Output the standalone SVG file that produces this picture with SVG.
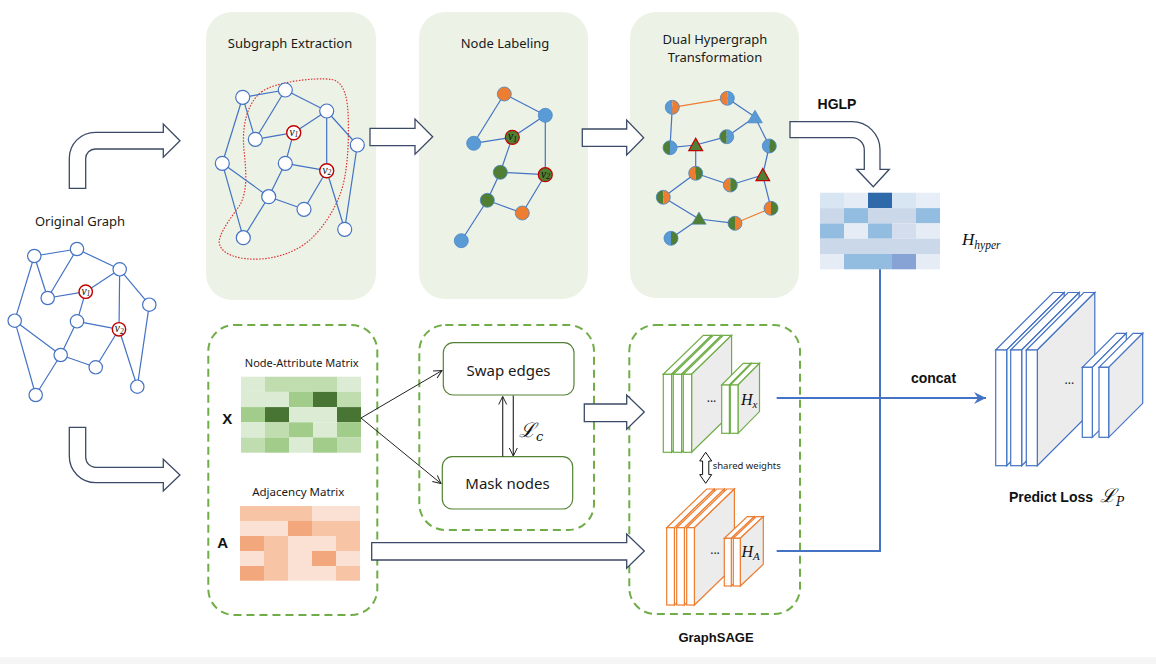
<svg xmlns="http://www.w3.org/2000/svg" xmlns:xlink="http://www.w3.org/1999/xlink" width="1156" height="664" viewBox="0 0 1156 664">
<style>
.t{font-family:"Noto Sans","Liberation Sans",sans-serif;fill:#1a1a1a;text-anchor:middle}
.b{font-family:"Liberation Sans",Arial,sans-serif;font-weight:bold;fill:#111}
.m{font-family:"Liberation Serif","DejaVu Serif",serif;font-style:italic;fill:#111}
.ml{font-family:"DejaVu Serif","Liberation Serif",serif;font-style:italic;fill:#111}
.vl{font-family:"Liberation Serif","DejaVu Serif",serif;font-style:italic;fill:#111;text-anchor:middle;font-size:11.5px}
.panel{fill:#ecf3e6;stroke:none}
.e{stroke:#4472c4;stroke-width:1.2;fill:none}
.eo{stroke:#ed7d31;stroke-width:1.2;fill:none}
.n{fill:#fff;stroke:#4472c4;stroke-width:1.2}
.nv{fill:#fff;stroke:#c00000;stroke-width:1.4}
.blk{fill:#fff;stroke:#3b4a66;stroke-width:1.3;stroke-linejoin:miter}
.dash{fill:none;stroke:#70ad47;stroke-width:2;stroke-dasharray:8 5}
.box{fill:#fff;stroke:#548235;stroke-width:1.2}
.sg{fill:#fff;stroke:#70ad47;stroke-width:1.2}
.so{fill:#fff;stroke:#ed7d31;stroke-width:1.2}
.sb{fill:#fff;stroke:#4472c4;stroke-width:1.2}
.fb{fill:#5b9bd5;stroke:#4a86c5;stroke-width:0.8}
.fo{fill:#ed7d31;stroke:#4a86c5;stroke-width:0.8}
.fg{fill:#507e32;stroke:#4a86c5;stroke-width:0.8}
.fgr{fill:#507e32;stroke:#c00000;stroke-width:1.2}
.cb{fill:#5b9bd5}.co{fill:#ed7d31}.cg{fill:#507e32}
.ring{fill:none;stroke:#4a86c5;stroke-width:0.8}
.bl{stroke:#4472c4;stroke-width:2;fill:none}
.k{stroke:#222;stroke-width:1;fill:none}
</style>
<defs>
<marker id="ah" markerWidth="10" markerHeight="10" refX="9" refY="5" orient="auto" markerUnits="userSpaceOnUse">
<path d="M1,1 L9,5 L1,9" fill="none" stroke="#222" stroke-width="1"/>
</marker>
<marker id="ahb" markerWidth="14" markerHeight="12" refX="12" refY="6" orient="auto" markerUnits="userSpaceOnUse">
<path d="M0,0 L12,6 L0,12 L4,6 Z" fill="#4472c4"/>
</marker>
<g id="hc-bo"><path d="M0,-7 A7,7 0 0 0 0,7 Z" class="cb"/><path d="M0,-7 A7,7 0 0 1 0,7 Z" class="co"/><circle r="7" class="ring"/></g>
<g id="hc-ob"><path d="M0,-7 A7,7 0 0 0 0,7 Z" class="co"/><path d="M0,-7 A7,7 0 0 1 0,7 Z" class="cb"/><circle r="7" class="ring"/></g>
<g id="hc-gb"><path d="M0,-7 A7,7 0 0 0 0,7 Z" class="cg"/><path d="M0,-7 A7,7 0 0 1 0,7 Z" class="cb"/><circle r="7" class="ring"/></g>
<g id="hc-bg"><path d="M0,-7 A7,7 0 0 0 0,7 Z" class="cb"/><path d="M0,-7 A7,7 0 0 1 0,7 Z" class="cg"/><circle r="7" class="ring"/></g>
<g id="hc-og"><path d="M0,-7 A7,7 0 0 0 0,7 Z" class="co"/><path d="M0,-7 A7,7 0 0 1 0,7 Z" class="cg"/><circle r="7" class="ring"/></g>
<g id="hc-go"><path d="M0,-7 A7,7 0 0 0 0,7 Z" class="cg"/><path d="M0,-7 A7,7 0 0 1 0,7 Z" class="co"/><circle r="7" class="ring"/></g>
</defs>

<rect x="0" y="0" width="1156" height="664" fill="#fff"/>
<rect x="0" y="657" width="1156" height="7" fill="#f5f5f5"/>

<!-- Original graph -->
<g id="original-graph">
<text class="t" x="80" y="226" font-size="13">Original Graph</text>
<g class="e">
<line x1="34.3" y1="256" x2="77" y2="249"/><line x1="34.3" y1="256" x2="47.7" y2="298"/><line x1="77" y1="249" x2="47.7" y2="298"/>
<line x1="34.3" y1="256" x2="14.7" y2="320.7"/><line x1="77" y1="249" x2="119.7" y2="269.3"/><line x1="47.7" y1="298" x2="85.7" y2="291.7"/>
<line x1="85.7" y1="291.7" x2="119.7" y2="269.3"/><line x1="119.7" y1="269.3" x2="119" y2="329.3"/><line x1="119.7" y1="269.3" x2="149.3" y2="304.7"/>
<line x1="85.7" y1="291.7" x2="77" y2="321.3"/><line x1="77" y1="321.3" x2="119" y2="329.3"/><line x1="77" y1="321.3" x2="60.7" y2="355"/>
<line x1="14.7" y1="320.7" x2="60.7" y2="355"/><line x1="14.7" y1="320.7" x2="35.7" y2="395"/><line x1="60.7" y1="355" x2="35.7" y2="395"/>
<line x1="60.7" y1="355" x2="95.7" y2="367.3"/><line x1="95.7" y1="367.3" x2="119" y2="329.3"/><line x1="119" y1="329.3" x2="137.3" y2="386.7"/>
<line x1="149.3" y1="304.7" x2="137.3" y2="386.7"/>
</g>
<circle class="n" cx="34.3" cy="256" r="6.7"/><circle class="n" cx="77" cy="249" r="6.7"/><circle class="n" cx="119.7" cy="269.3" r="6.7"/>
<circle class="n" cx="47.7" cy="298" r="6.7"/><circle class="n" cx="149.3" cy="304.7" r="6.7"/><circle class="n" cx="14.7" cy="320.7" r="6.7"/>
<circle class="n" cx="77" cy="321.3" r="6.7"/><circle class="n" cx="60.7" cy="355" r="6.7"/><circle class="n" cx="95.7" cy="367.3" r="6.7"/>
<circle class="n" cx="137.3" cy="386.7" r="6.7"/><circle class="n" cx="35.7" cy="395" r="6.7"/>
<circle class="nv" cx="85.7" cy="291.7" r="6.7"/><circle class="nv" cx="119" cy="329.3" r="6.7"/>
<text class="vl" x="85.9" y="294.5">v<tspan font-size="7.5" dy="1.8">1</tspan></text>
<text class="vl" x="119.2" y="332.1">v<tspan font-size="7.5" dy="1.8">2</tspan></text>
</g>

<!-- Subgraph extraction -->
<g id="subgraph-extraction">
<rect class="panel" x="206" y="12" width="170" height="288" rx="26"/>
<text class="t" x="290" y="48" font-size="13">Subgraph Extraction</text>
<path d="M261.7,91.7 C275,82 315,77 332,79.5 C345,82 348,100 348.3,120 C349,145 347,170 343,185 C338,205 325,225 313,237 C300,250 280,258 260,259 C240,260 222,255 219.5,244 C217,235 233,215 240,205 C248,190 246,170 244,150 C242,130 245,105 261.7,91.7 Z" fill="none" stroke="#e03030" stroke-width="1.2" stroke-dasharray="1.5 1.5"/>
<g class="e">
<line x1="242.7" y1="97.3" x2="285.3" y2="90"/><line x1="242.7" y1="97.3" x2="255.3" y2="139.3"/><line x1="285.3" y1="90" x2="255.3" y2="139.3"/>
<line x1="242.7" y1="97.3" x2="222.3" y2="163.3"/><line x1="285.3" y1="90" x2="326.7" y2="111"/><line x1="255.3" y1="139.3" x2="293.7" y2="132.7"/>
<line x1="293.7" y1="132.7" x2="326.7" y2="111"/><line x1="326.7" y1="111" x2="326.7" y2="170.7"/><line x1="326.7" y1="111" x2="357.3" y2="145"/>
<line x1="293.7" y1="132.7" x2="285.3" y2="163.3"/><line x1="285.3" y1="163.3" x2="326.7" y2="170.7"/><line x1="285.3" y1="163.3" x2="268.7" y2="196.7"/>
<line x1="222.3" y1="163.3" x2="268.7" y2="196.7"/><line x1="222.3" y1="163.3" x2="243.3" y2="237.7"/><line x1="268.7" y1="196.7" x2="243.3" y2="237.7"/>
<line x1="268.7" y1="196.7" x2="304" y2="209.3"/><line x1="304" y1="209.3" x2="326.7" y2="170.7"/><line x1="326.7" y1="170.7" x2="344.7" y2="229.3"/>
<line x1="357.3" y1="145" x2="344.7" y2="229.3"/>
</g>
<circle class="n" cx="242.7" cy="97.3" r="7"/><circle class="n" cx="285.3" cy="90" r="7"/><circle class="n" cx="326.7" cy="111" r="7"/>
<circle class="n" cx="255.3" cy="139.3" r="7"/><circle class="n" cx="357.3" cy="145" r="7"/><circle class="n" cx="222.3" cy="163.3" r="7"/>
<circle class="n" cx="285.3" cy="163.3" r="7"/><circle class="n" cx="268.7" cy="196.7" r="7"/><circle class="n" cx="304" cy="209.3" r="7"/>
<circle class="n" cx="344.7" cy="229.3" r="7"/><circle class="n" cx="243.3" cy="237.7" r="7"/>
<circle class="nv" cx="293.7" cy="132.7" r="7"/><circle class="nv" cx="326.7" cy="170.7" r="7"/>
<text class="vl" x="293.9" y="135.6">v<tspan font-size="7.5" dy="1.8">1</tspan></text>
<text class="vl" x="326.9" y="173.6">v<tspan font-size="7.5" dy="1.8">2</tspan></text>
</g>

<!-- Node labeling -->
<g id="node-labeling">
<rect class="panel" x="419" y="12" width="169" height="287" rx="26"/>
<text class="t" x="505" y="48" font-size="13">Node Labeling</text>
<g class="e">
<line x1="504.3" y1="94" x2="545.3" y2="115.3"/><line x1="504.3" y1="94" x2="473.7" y2="143.3"/><line x1="473.7" y1="143.3" x2="512.3" y2="137.3"/>
<line x1="512.3" y1="137.3" x2="545.3" y2="115.3"/><line x1="545.3" y1="115.3" x2="545.3" y2="174.7"/><line x1="512.3" y1="137.3" x2="500.3" y2="172.3"/>
<line x1="500.3" y1="172.3" x2="545.3" y2="174.7"/><line x1="500.3" y1="172.3" x2="487.3" y2="200.3"/><line x1="487.3" y1="200.3" x2="522.3" y2="213"/>
<line x1="522.3" y1="213" x2="545.3" y2="174.7"/><line x1="487.3" y1="200.3" x2="461.3" y2="240.7"/>
</g>
<circle class="fo" cx="504.3" cy="94" r="7"/><circle class="fb" cx="545.3" cy="115.3" r="7"/><circle class="fb" cx="473.7" cy="143.3" r="7"/>
<circle class="fg" cx="500.3" cy="172.3" r="7"/><circle class="fg" cx="487.3" cy="200.3" r="7"/><circle class="fo" cx="522.3" cy="213" r="7"/>
<circle class="fb" cx="461.3" cy="240.7" r="7"/>
<circle class="fgr" cx="512.3" cy="137.3" r="7"/><circle class="fgr" cx="545.3" cy="174.7" r="7"/>
<text class="vl" x="512.5" y="140.2">v<tspan font-size="7.5" dy="1.8">1</tspan></text>
<text class="vl" x="545.5" y="177.6">v<tspan font-size="7.5" dy="1.8">2</tspan></text>
</g>

<!-- Dual hypergraph transformation -->
<g id="dual-hypergraph">
<rect class="panel" x="630" y="12" width="169" height="286" rx="26"/>
<text class="t" x="715" y="44" font-size="13">Dual Hypergraph</text>
<text class="t" x="715" y="62" font-size="13">Transformation</text>
<line class="eo" x1="672.3" y1="107.3" x2="727.3" y2="98.3"/>
<line class="eo" x1="735" y1="223.3" x2="771" y2="208.3"/>
<g class="e">
<line x1="727.3" y1="98.3" x2="755" y2="117"/><line x1="755" y1="117" x2="726.7" y2="136.7"/><line x1="755" y1="117" x2="769.3" y2="146"/>
<line x1="726.7" y1="136.7" x2="695.7" y2="145"/><line x1="695.7" y1="145" x2="670" y2="147.7"/><line x1="670" y1="147.7" x2="672.3" y2="107.3"/>
<line x1="695.7" y1="145" x2="695.7" y2="173.3"/><line x1="695.7" y1="173.3" x2="730.3" y2="185"/><line x1="730.3" y1="185" x2="762.7" y2="175"/>
<line x1="769.3" y1="146" x2="762.7" y2="175"/><line x1="762.7" y1="175" x2="771" y2="208.3"/><line x1="695.7" y1="173.3" x2="663.3" y2="197.3"/>
<line x1="663.3" y1="197.3" x2="699" y2="219"/><line x1="699" y1="219" x2="735" y2="223.3"/><line x1="699" y1="219" x2="671" y2="238.3"/>
</g>
<use xlink:href="#hc-bo" x="672.3" y="107.3"/>
<use xlink:href="#hc-ob" x="727.3" y="98.3"/>
<use xlink:href="#hc-gb" x="726.7" y="136.7"/>
<use xlink:href="#hc-gb" x="670" y="147.7"/>
<use xlink:href="#hc-bg" x="769.3" y="146"/>
<use xlink:href="#hc-og" x="695.7" y="173.3"/>
<use xlink:href="#hc-og" x="730.3" y="185"/>
<use xlink:href="#hc-go" x="663.3" y="197.3"/>
<use xlink:href="#hc-og" x="771" y="208.3"/>
<use xlink:href="#hc-go" x="735" y="223.3"/>
<use xlink:href="#hc-bg" x="671" y="238.3"/>
<polygon points="755,110.3 762.3,122.8 747.7,122.8" fill="#5b9bd5" stroke="#4a86c5" stroke-width="0.8"/>
<polygon points="695.7,138.3 702.6,150.7 688.8,150.7" fill="#507e32" stroke="#c00000" stroke-width="1.2"/>
<polygon points="762.8,168.5 769.6,180.7 756,180.7" fill="#507e32" stroke="#c00000" stroke-width="1.2"/>
<polygon points="699,212 706.2,224.2 691.8,224.2" fill="#507e32" stroke="#4a86c5" stroke-width="0.6"/>
</g>

<!-- H_hyper matrix -->
<g id="h-hyper">
<g>
<rect x="820" y="192.7" width="24" height="15.4" fill="#d8e6f4"/><rect x="844" y="192.7" width="24" height="15.4" fill="#e6ecf5"/><rect x="868" y="192.7" width="24" height="15.4" fill="#2e6aaa"/><rect x="892" y="192.7" width="24" height="15.4" fill="#d8e6f4"/><rect x="916" y="192.7" width="24" height="15.4" fill="#e8eef7"/>
<rect x="820" y="208.1" width="24" height="15.3" fill="#cbd8ea"/><rect x="844" y="208.1" width="24" height="15.3" fill="#93bde0"/><rect x="868" y="208.1" width="24" height="15.3" fill="#cbd8ea"/><rect x="892" y="208.1" width="24" height="15.3" fill="#cbd8ea"/><rect x="916" y="208.1" width="24" height="15.3" fill="#93bde0"/>
<rect x="820" y="223.4" width="24" height="15.3" fill="#93bde0"/><rect x="844" y="223.4" width="24" height="15.3" fill="#e6ecf5"/><rect x="868" y="223.4" width="24" height="15.3" fill="#93bde0"/><rect x="892" y="223.4" width="24" height="15.3" fill="#d3ddee"/><rect x="916" y="223.4" width="24" height="15.3" fill="#e6ecf5"/>
<rect x="820" y="238.7" width="120" height="15.3" fill="#cbd8ea"/>
<rect x="820" y="254" width="24" height="15.3" fill="#e6ecf5"/><rect x="844" y="254" width="48" height="15.3" fill="#93bde0"/><rect x="892" y="254" width="24" height="15.3" fill="#87a3d6"/><rect x="916" y="254" width="24" height="15.3" fill="#e6ecf5"/>
</g>
<text class="m" x="962" y="245" font-size="17">H<tspan font-size="11.5" dy="4">hyper</tspan></text>
</g>

<!-- Left dashed box: matrices -->
<g id="matrices">
<rect class="dash" x="208.3" y="325" width="169" height="290" rx="26"/>
<text class="t" x="301.7" y="366.5" font-size="11">Node-Attribute Matrix</text>
<text class="b" x="227.3" y="424" font-size="15" text-anchor="middle">X</text>
<g>
<rect x="241" y="376.7" width="24" height="15.2" fill="#dcebd3"/><rect x="265" y="376.7" width="72" height="15.2" fill="#c0ddb0"/><rect x="337" y="376.7" width="24" height="15.2" fill="#dcebd3"/>
<rect x="241" y="391.9" width="48" height="15.2" fill="#dcebd3"/><rect x="289" y="391.9" width="24" height="15.2" fill="#a1cc89"/><rect x="313" y="391.9" width="24" height="15.2" fill="#487533"/><rect x="337" y="391.9" width="24" height="15.2" fill="#c0ddb0"/>
<rect x="241" y="407.1" width="24" height="15.2" fill="#a1cc89"/><rect x="265" y="407.1" width="24" height="15.2" fill="#487533"/><rect x="289" y="407.1" width="48" height="15.2" fill="#dcebd3"/><rect x="337" y="407.1" width="24" height="15.2" fill="#487533"/>
<rect x="241" y="422.3" width="24" height="15.2" fill="#dcebd3"/><rect x="265" y="422.3" width="24" height="15.2" fill="#c0ddb0"/><rect x="289" y="422.3" width="24" height="15.2" fill="#a1cc89"/><rect x="313" y="422.3" width="24" height="15.2" fill="#dcebd3"/><rect x="337" y="422.3" width="24" height="15.2" fill="#a1cc89"/>
<rect x="241" y="437.5" width="24" height="15.2" fill="#c0ddb0"/><rect x="265" y="437.5" width="24" height="15.2" fill="#a1cc89"/><rect x="289" y="437.5" width="24" height="15.2" fill="#dcebd3"/><rect x="313" y="437.5" width="24" height="15.2" fill="#a1cc89"/><rect x="337" y="437.5" width="24" height="15.2" fill="#c0ddb0"/>
</g>
<text class="t" x="298.3" y="496" font-size="11.5">Adjacency Matrix</text>
<text class="b" x="222.7" y="548" font-size="15" text-anchor="middle">A</text>
<g>
<rect x="240" y="506" width="72" height="15" fill="#f7c4a6"/><rect x="312" y="506" width="48" height="15" fill="#fbe1d3"/>
<rect x="240" y="521" width="48" height="15" fill="#fbe1d3"/><rect x="288" y="521" width="24" height="15" fill="#f3a77c"/><rect x="312" y="521" width="48" height="15" fill="#f7c4a6"/>
<rect x="240" y="536" width="24" height="15" fill="#f3a77c"/><rect x="264" y="536" width="24" height="15" fill="#f7c4a6"/><rect x="288" y="536" width="48" height="15" fill="#fbe1d3"/><rect x="336" y="536" width="24" height="15" fill="#f7c4a6"/>
<rect x="240" y="551" width="24" height="15" fill="#fbe1d3"/><rect x="264" y="551" width="24" height="15" fill="#f7c4a6"/><rect x="288" y="551" width="24" height="15" fill="#fbe1d3"/><rect x="312" y="551" width="24" height="15" fill="#f3a77c"/><rect x="336" y="551" width="24" height="15" fill="#fbe1d3"/>
<rect x="240" y="566" width="24" height="14.7" fill="#f3a77c"/><rect x="264" y="566" width="24" height="14.7" fill="#f7c4a6"/><rect x="288" y="566" width="48" height="14.7" fill="#fbe1d3"/><rect x="336" y="566" width="24" height="14.7" fill="#f7c4a6"/>
</g>
</g>

<!-- Augmentation box -->
<g id="augmentation">
<rect class="dash" x="419.3" y="325" width="174.7" height="205" rx="26"/>
<g id="swap-edges"><rect class="box" x="443.3" y="342.7" width="130.7" height="52.3" rx="10"/>
<text class="t" x="508.5" y="375.5" font-size="15">Swap edges</text></g>
<g id="mask-nodes"><rect class="box" x="442.3" y="456.7" width="130.4" height="52.3" rx="10"/>
<text class="t" x="507.5" y="489" font-size="15">Mask nodes</text></g>
<text class="ml" x="519" y="437" font-size="20">ℒ<tspan font-size="13" dy="4">c</tspan></text>
</g>

<!-- GraphSAGE box -->
<g id="graphsage">
<rect class="dash" x="629.3" y="325" width="170.7" height="289" rx="26"/>
<text class="b" x="716" y="642" font-size="13" text-anchor="middle">GraphSAGE</text>
<g class="sg">
<polygon points="663.3,374.3 703.3,335.3 711.6,335.3 671.6,374.3"/><polygon points="671.6,374.3 711.6,335.3 711.6,413.3 671.6,452.3"/><rect x="663.3" y="374.3" width="8.3" height="78"/>
<polygon points="673.3,374.3 713.3,335.3 721.6,335.3 681.6,374.3"/><polygon points="681.6,374.3 721.6,335.3 721.6,413.3 681.6,452.3"/><rect x="673.3" y="374.3" width="8.3" height="78"/>
<polygon points="683.3,374.3 723.3,335.3 731.6,335.3 691.6,374.3"/><polygon points="691.6,374.3 731.6,335.3 731.6,413.3 691.6,452.3" style="fill:#ececec"/><rect x="683.3" y="374.3" width="8.3" height="78"/>
<polygon points="721.7,385 743.2,363.3 750.9,363.3 729.4,385"/><polygon points="729.4,385 750.9,363.3 750.9,411.6 729.4,433.3"/><rect x="721.7" y="385" width="7.7" height="48.3"/>
<polygon points="730.3,385 751.8,363.3 759.5,363.3 738,385"/><polygon points="738,385 759.5,363.3 759.5,411.6 738,433.3" style="fill:#ececec"/><rect x="730.3" y="385" width="7.7" height="48.3"/>
</g>
<text class="t" x="711.5" y="402" font-size="12">...</text>
<text class="m" x="741" y="405" font-size="16">H<tspan font-size="11" dy="3">x</tspan></text>
<g class="so">
<polygon points="666.7,527.7 706.7,489 714.4,489 674.4,527.7"/><polygon points="674.4,527.7 714.4,489 714.4,566.3 674.4,605"/><rect x="666.7" y="527.7" width="7.7" height="77.3"/>
<polygon points="676.7,527.7 716.7,489 724.4,489 684.4,527.7"/><polygon points="684.4,527.7 724.4,489 724.4,566.3 684.4,605"/><rect x="676.7" y="527.7" width="7.7" height="77.3"/>
<polygon points="686.7,527.7 726.7,489 734.4,489 694.4,527.7"/><polygon points="694.4,527.7 734.4,489 734.4,566.3 694.4,605" style="fill:#ececec"/><rect x="686.7" y="527.7" width="7.7" height="77.3"/>
<polygon points="724.3,538.3 747.3,516.6 754.3,516.6 731.3,538.3"/><polygon points="731.3,538.3 754.3,516.6 754.3,564.3 731.3,586"/><rect x="724.3" y="538.3" width="7" height="47.7"/>
<polygon points="733.3,538.3 756.3,516.6 763.3,516.6 740.3,538.3"/><polygon points="740.3,538.3 763.3,516.6 763.3,564.3 740.3,586" style="fill:#ececec"/><rect x="733.3" y="538.3" width="7" height="47.7"/>
</g>
<text class="t" x="715" y="554" font-size="12">...</text>
<text class="m" x="741.5" y="557" font-size="16">H<tspan font-size="11" dy="3">A</tspan></text>
<path d="M705.7,452.3 L711.7,461 H708.8 V474.6 H711.7 L705.7,483.3 L699.7,474.6 H702.6 V461 H699.7 Z" fill="#fff" stroke="#111" stroke-width="1"/>
<text x="712.7" y="469" font-size="9.5" font-family="Noto Sans,Liberation Sans,sans-serif" fill="#222">shared weights</text>
</g>

<!-- Predictor -->
<g id="predictor">
<g class="sb">
<polygon points="995.7,350 1053.2,292.5 1064.2,292.5 1006.7,350"/><polygon points="1006.7,350 1064.2,292.5 1064.2,408.2 1006.7,465.7"/><rect x="995.7" y="350" width="11" height="115.7"/>
<polygon points="1010.7,350 1068.2,292.5 1079.2,292.5 1021.7,350"/><polygon points="1021.7,350 1079.2,292.5 1079.2,408.2 1021.7,465.7"/><rect x="1010.7" y="350" width="11" height="115.7"/>
<polygon points="1026.3,350 1083.8,292.5 1094.8,292.5 1037.3,350"/><polygon points="1037.3,350 1094.8,292.5 1094.8,408.2 1037.3,465.7" style="fill:#ececec"/><rect x="1026.3" y="350" width="11" height="115.7"/>
<polygon points="1082.3,367.3 1116.3,333.3 1126.3,333.3 1092.3,367.3"/><polygon points="1092.3,367.3 1126.3,333.3 1126.3,403.3 1092.3,437.3"/><rect x="1082.3" y="367.3" width="10" height="70"/>
<polygon points="1099,367.3 1133,333.3 1142.7,333.3 1108.7,367.3"/><polygon points="1108.7,367.3 1142.7,333.3 1142.7,403.3 1108.7,437.3" style="fill:#ececec"/><rect x="1099" y="367.3" width="9.7" height="70"/>
</g>
<text class="t" x="1069.3" y="384" font-size="12">...</text>
<text class="b" x="1009" y="502" font-size="14">Predict Loss</text>
<text class="ml" x="1100" y="502" font-size="19">ℒ<tspan font-size="12" dy="4">P</tspan></text>
</g>

<!-- Connectors -->
<g id="connectors">
<path class="blk" d="M69.3,188.3 V158.3 A26,26 0 0 1 95.3,132.3 H163.3 V124 L180,140.7 L163.3,157.3 V149 H95.3 A9.6,9.6 0 0 0 85.7,158.6 V188.3 Z"/>
<path class="blk" d="M69.3,427.3 H85.7 V457.3 A10,10 0 0 0 95.7,467.3 H163.3 V459.3 L180,475 L163.3,491 V482.7 H95.7 A26.4,26.4 0 0 1 69.3,456.3 Z"/>
<path class="blk" d="M370,128.3 H415 V119 L432.7,136.7 L415,154.3 V145.7 H370 Z"/>
<path class="blk" d="M582.3,129 H626.7 V120 L643.7,137.7 L626.7,155 V146.3 H582.3 Z"/>
<path class="blk" d="M790,121.7 H852 A28,28 0 0 1 880,149.7 V169.3 H889.3 L873.3,186.7 L856.7,169.3 H864.3 V150 A12.3,12.3 0 0 0 852,137.7 H790 Z"/>
<path class="blk" d="M584.3,404 H626.7 V395 L644.3,412 L626.7,429.3 V421.7 H584.3 Z"/>
<path class="blk" d="M371.7,542.7 H626.7 V534 L644.3,551 L626.7,568.3 V560 H371.7 Z"/>
<line class="k" x1="361" y1="418" x2="442" y2="370.5" marker-end="url(#ah)"/>
<line class="k" x1="361" y1="418" x2="441" y2="483.5" marker-end="url(#ah)"/>
<line x1="502.7" y1="456.7" x2="502.7" y2="396.5" stroke="#333" stroke-width="1.2" marker-end="url(#ah)"/>
<line x1="513.3" y1="395.5" x2="513.3" y2="456" stroke="#333" stroke-width="1.2" marker-end="url(#ah)"/>
<line class="bl" x1="776.7" y1="398" x2="986" y2="398" marker-end="url(#ahb)"/>
<polyline class="bl" points="880,269.3 880,551 776.7,551"/>
</g>
<text class="b" x="837" y="109" font-size="14" text-anchor="middle">HGLP</text>
<text class="b" x="933.5" y="383" font-size="14" text-anchor="middle">concat</text>
</svg>
